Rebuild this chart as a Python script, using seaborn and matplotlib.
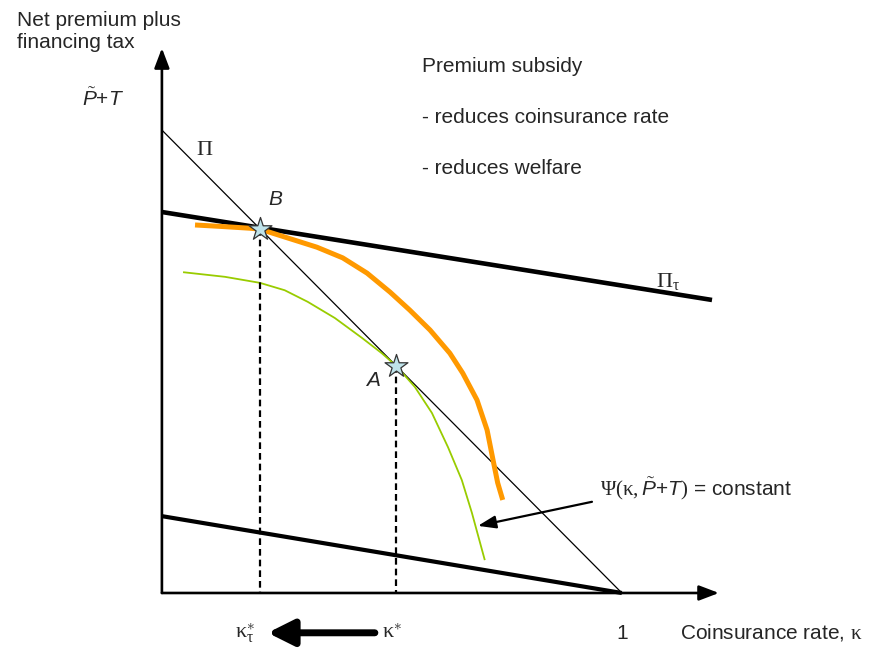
import numpy as np
import pandas as pd
import matplotlib
matplotlib.use("Agg")
import matplotlib.pyplot as plt
import seaborn as sns

sns.set_theme(style="white")
plt.rcParams["font.family"] = ["Liberation Sans", "DejaVu Sans"]
plt.rcParams["mathtext.fontset"] = "custom"
plt.rcParams["mathtext.rm"] = "Liberation Serif"
plt.rcParams["mathtext.it"] = "Liberation Sans:italic"
plt.rcParams["mathtext.sf"] = "Liberation Sans"

# Premium line Pi (actuarially fair) and the subsidised line Pi_tau
pi_k = [0.0, 1.0]
pi_y = [1.0, 0.0]
pitau_k = [0.0, 1.196]
pitau_y = [0.823, 0.633]
low_k = [0.0, 1.0]
low_y = [0.166, 0.0]

# Indifference curves Psi(kappa, P+T) = constant
orange_k = [0.072, 0.126, 0.191, 0.213, 0.267, 0.337, 0.393, 0.446, 0.496, 0.539,
            0.583, 0.626, 0.654, 0.685, 0.707, 0.720, 0.730, 0.741]
orange_y = [0.795, 0.792, 0.788, 0.786, 0.769, 0.747, 0.724, 0.691, 0.650, 0.611,
            0.568, 0.518, 0.475, 0.417, 0.352, 0.287, 0.238, 0.201]
green_k = [0.046, 0.137, 0.213, 0.267, 0.317, 0.376, 0.435, 0.478, 0.510, 0.550,
           0.587, 0.622, 0.652, 0.674, 0.702]
green_y = [0.693, 0.683, 0.670, 0.654, 0.629, 0.594, 0.551, 0.518, 0.490, 0.445,
           0.389, 0.315, 0.244, 0.173, 0.071]

# Equilibria: A (no subsidy), B (with subsidy)
eq_k = [0.51, 0.213]
eq_y = [0.49, 0.787]
eq_labels = ["A", "B"]

axis_end_k = 1.211
axis_end_y = 1.177

fig = plt.figure(figsize=(8.73, 6.49), dpi=100)
ax = fig.add_axes([0, 0, 1, 1])
ax.set_xlim(-0.352, 1.546)
ax.set_ylim(-0.121, 1.281)
ax.axis("off")

# axes with arrow heads
for end in [(0, axis_end_y), (axis_end_k, 0)]:
    ax.annotate("", xy=end, xytext=(0, 0),
                arrowprops=dict(arrowstyle="-|>,head_length=1.0,head_width=0.38",
                                lw=1.9, color="black", shrinkA=0, shrinkB=0))

line_kw = dict(solid_capstyle="butt", solid_joinstyle="round")
sns.lineplot(x=pi_k, y=pi_y, ax=ax, color="black", lw=0.9, **line_kw)
sns.lineplot(x=pitau_k, y=pitau_y, ax=ax, color="black", lw=3.3, **line_kw)
sns.lineplot(x=low_k, y=low_y, ax=ax, color="black", lw=3.0, **line_kw)
sns.lineplot(x=orange_k, y=orange_y, ax=ax, color="#FF9900", lw=3.6, sort=False, **line_kw)
sns.lineplot(x=green_k, y=green_y, ax=ax, color="#99CC00", lw=1.3, sort=False, **line_kw)

# dashed drop lines from the equilibria
for k, y in zip(eq_k, eq_y):
    ax.plot([k, k], [y, 0], color="black", lw=1.6, ls=(0, (3, 1.8)), zorder=3)

eq = pd.DataFrame({"k": eq_k, "y": eq_y})
sns.scatterplot(data=eq, x="k", y="y", ax=ax, marker="*", s=300,
                color="#BFE3EA", edgecolor="#333333", linewidth=0.9, zorder=5)

tfs = 15
ax.text(-0.315, 1.258, "Net premium plus\nfinancing tax", fontsize=tfs,
        ha="left", va="top", linespacing=1.2)
ax.text(-0.174, 1.067, r"$\tilde{P}$+$T$", fontsize=tfs, ha="left", va="center")
ax.text(0.093, 0.957, r"$\mathrm{\Pi}$", fontsize=tfs + 1, ha="center", va="center")
ax.text(1.10, 0.672, r"$\mathrm{\Pi_{\tau}}$", fontsize=tfs + 1, ha="center", va="center")
ax.text(0.246, 0.849, eq_labels[1], fontsize=tfs, style="italic", ha="center", va="center")
ax.text(0.459, 0.458, eq_labels[0], fontsize=tfs, style="italic", ha="center", va="center")

ax.text(0.565, 1.138, "Premium subsidy", fontsize=tfs, ha="left", va="center")
ax.text(0.565, 1.028, "- reduces coinsurance rate", fontsize=tfs, ha="left", va="center")
ax.text(0.565, 0.918, "- reduces welfare", fontsize=tfs, ha="left", va="center")

ax.text(0.952, 0.225, r"$\mathrm{\Psi(\kappa,}\tilde{P}\mathsf{+}T\mathrm{)}$ = constant",
        fontsize=tfs, ha="left", va="center")
ax.annotate("", xy=(0.687, 0.145), xytext=(0.935, 0.197),
            arrowprops=dict(arrowstyle="-|>,head_length=0.9,head_width=0.32",
                            lw=1.6, color="black", shrinkA=0, shrinkB=0))

ax.text(0.180, -0.086, r"$\mathrm{\kappa_{\tau}^{\ast}}$", fontsize=tfs + 1, ha="center", va="center")
ax.text(0.500, -0.086, r"$\mathrm{\kappa^{\ast}}$", fontsize=tfs + 1, ha="center", va="center")
ax.annotate("", xy=(0.230, -0.086), xytext=(0.463, -0.086),
            arrowprops=dict(arrowstyle="-|>,head_length=1.3,head_width=0.65",
                            lw=5.0, color="black", shrinkA=0, shrinkB=0))
ax.text(1.0, -0.088, "1", fontsize=tfs, ha="center", va="center")
ax.text(1.126, -0.086, r"Coinsurance rate, $\mathrm{\kappa}$", fontsize=tfs,
        ha="left", va="center")

fig.savefig("out.png", dpi=100, facecolor="white")
